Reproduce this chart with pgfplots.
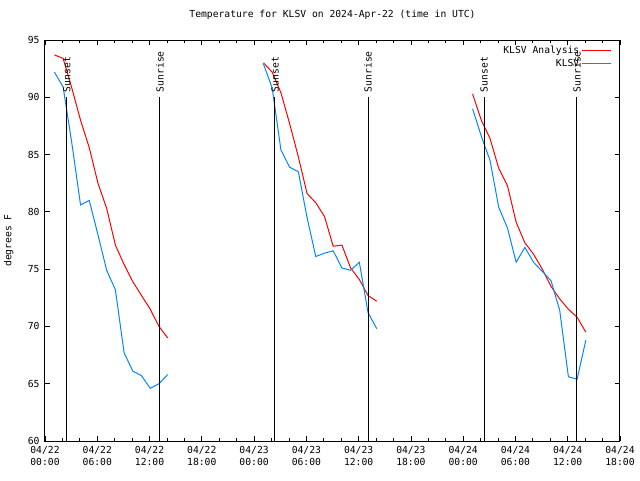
\documentclass[border=0pt]{standalone}
\usepackage{pgfplots}
\pgfplotsset{compat=1.18}
\usepackage{fontspec}
\setmainfont{DejaVu Sans Mono}
\definecolor{lred}{RGB}{255,0,0}
\definecolor{lblue}{RGB}{0,136,255}
\newcommand{\gf}{\fontsize{9.7}{12}\selectfont}
\begin{document}
\gf
\begin{tikzpicture}
\useasboundingbox (-45pt,-39pt) rectangle (595pt,441pt);
\begin{axis}[
  at={(0,0)}, anchor=south west,
  scale only axis, width=575pt, height=401pt,
  xmin=0, xmax=66, ymin=60, ymax=95,
  xtick={0,6,...,66},
  xticklabels={{04/22\\00:00},{04/22\\06:00},{04/22\\12:00},{04/22\\18:00},{04/23\\00:00},{04/23\\06:00},{04/23\\12:00},{04/23\\18:00},{04/24\\00:00},{04/24\\06:00},{04/24\\12:00},{04/24\\18:00}},
  minor x tick num=2,
  ytick={60,65,...,95},
  tick align=inside,
  major tick length=5pt, minor tick length=3pt,
  every tick/.style={black, line width=0.8pt},
  axis line style={black, line width=1pt},
  /pgf/number format/assume math mode=true,
  tick label style={font=\gf},
  xticklabel style={align=center, yshift=-2pt},
  yticklabel style={xshift=-2pt},
  ylabel={degrees F},
  ylabel style={at={(axis description cs:-0.063,0.5)}, anchor=center, font=\gf},
  title={Temperature for KLSV on 2024-Apr-22 (time in UTC)},
  title style={at={(0.5,1)}, anchor=base, yshift=17pt, inner sep=0pt, font=\gf},
  legend plot pos=right,
  legend cell align=right,
  legend image code/.code={\draw[#1] (0pt,0pt) -- (29pt,0pt);},
  legend style={at={(1,1)}, anchor=north east, draw=none, fill=none,
    xshift=-8pt, yshift=-3pt, inner sep=0pt, row sep=0pt,
    nodes={inner sep=2.5pt}, font=\gf},
]
% KLSV Analysis (red)
\addplot[lred, line width=1pt] coordinates {
(1.08,93.7) (2.08,93.4) (3.08,90.8) (4.08,88.0) (5.08,85.6) (6.08,82.5) (7.08,80.3)
(8.08,77.1) (9.08,75.4) (10.08,73.9) (11.08,72.7) (12.08,71.5) (13.08,70.0) (14.08,69.0)};
\addlegendentry{KLSV Analysis}
% KLSV observed (blue)
\addplot[lblue, line width=1pt] coordinates {
(1.08,92.2) (2.08,90.9) (3.08,86.0) (4.08,80.6) (5.08,81.0) (6.08,78.0) (7.08,74.9)
(8.08,73.2) (9.08,67.7) (10.08,66.1) (11.08,65.7) (12.08,64.6) (13.08,65.0) (14.08,65.8)};
\addlegendentry{KLSV}
\addplot[lred, line width=1pt, forget plot] coordinates {
(25.08,93.0) (26.08,92.2) (27.08,90.4) (28.08,87.7) (29.08,84.8) (30.08,81.6) (31.08,80.8)
(32.08,79.6) (33.08,77.0) (34.08,77.1) (35.08,75.1) (36.08,74.1) (37.08,72.7) (38.08,72.2)};
\addplot[lblue, line width=1pt, forget plot] coordinates {
(25.08,92.9) (26.08,90.8) (27.08,85.4) (28.08,83.9) (29.08,83.5) (30.08,79.5) (31.08,76.1)
(32.08,76.4) (33.08,76.6) (34.08,75.1) (35.08,74.9) (36.08,75.6) (37.08,71.2) (38.08,69.8)};
\addplot[lred, line width=1pt, forget plot] coordinates {
(49.08,90.3) (50.08,88.0) (51.08,86.4) (52.08,83.8) (53.08,82.3) (54.08,79.1) (55.08,77.3)
(56.08,76.3) (57.08,75.0) (58.08,73.5) (59.08,72.4) (60.08,71.5) (61.08,70.8) (62.08,69.5)};
\addplot[lblue, line width=1pt, forget plot] coordinates {
(49.08,89.0) (50.08,86.6) (51.08,84.5) (52.08,80.4) (53.08,78.6) (54.08,75.6) (55.08,76.9)
(56.08,75.6) (57.08,74.8) (58.08,74.0) (59.08,71.4) (60.08,65.6) (61.08,65.4) (62.08,68.8)};
% sunset / sunrise markers
\addplot[black, line width=1pt, forget plot] coordinates {(2.50,60) (2.50,90)};
\addplot[black, line width=1pt, forget plot] coordinates {(13.20,60) (13.20,90)};
\addplot[black, line width=1pt, forget plot] coordinates {(26.40,60) (26.40,90)};
\addplot[black, line width=1pt, forget plot] coordinates {(37.08,60) (37.08,90)};
\addplot[black, line width=1pt, forget plot] coordinates {(50.39,60) (50.39,90)};
\addplot[black, line width=1pt, forget plot] coordinates {(61.06,60) (61.06,90)};
\node[rotate=90, anchor=west, inner sep=0pt, font=\gf] at ([yshift=5pt]axis cs:2.50,90) {Sunset};
\node[rotate=90, anchor=west, inner sep=0pt, font=\gf] at ([yshift=5pt]axis cs:13.20,90) {Sunrise};
\node[rotate=90, anchor=west, inner sep=0pt, font=\gf] at ([yshift=5pt]axis cs:26.40,90) {Sunset};
\node[rotate=90, anchor=west, inner sep=0pt, font=\gf] at ([yshift=5pt]axis cs:37.08,90) {Sunrise};
\node[rotate=90, anchor=west, inner sep=0pt, font=\gf] at ([yshift=5pt]axis cs:50.39,90) {Sunset};
\node[rotate=90, anchor=west, inner sep=0pt, font=\gf] at ([yshift=5pt]axis cs:61.06,90) {Sunrise};
\end{axis}
\end{tikzpicture}
\end{document}
